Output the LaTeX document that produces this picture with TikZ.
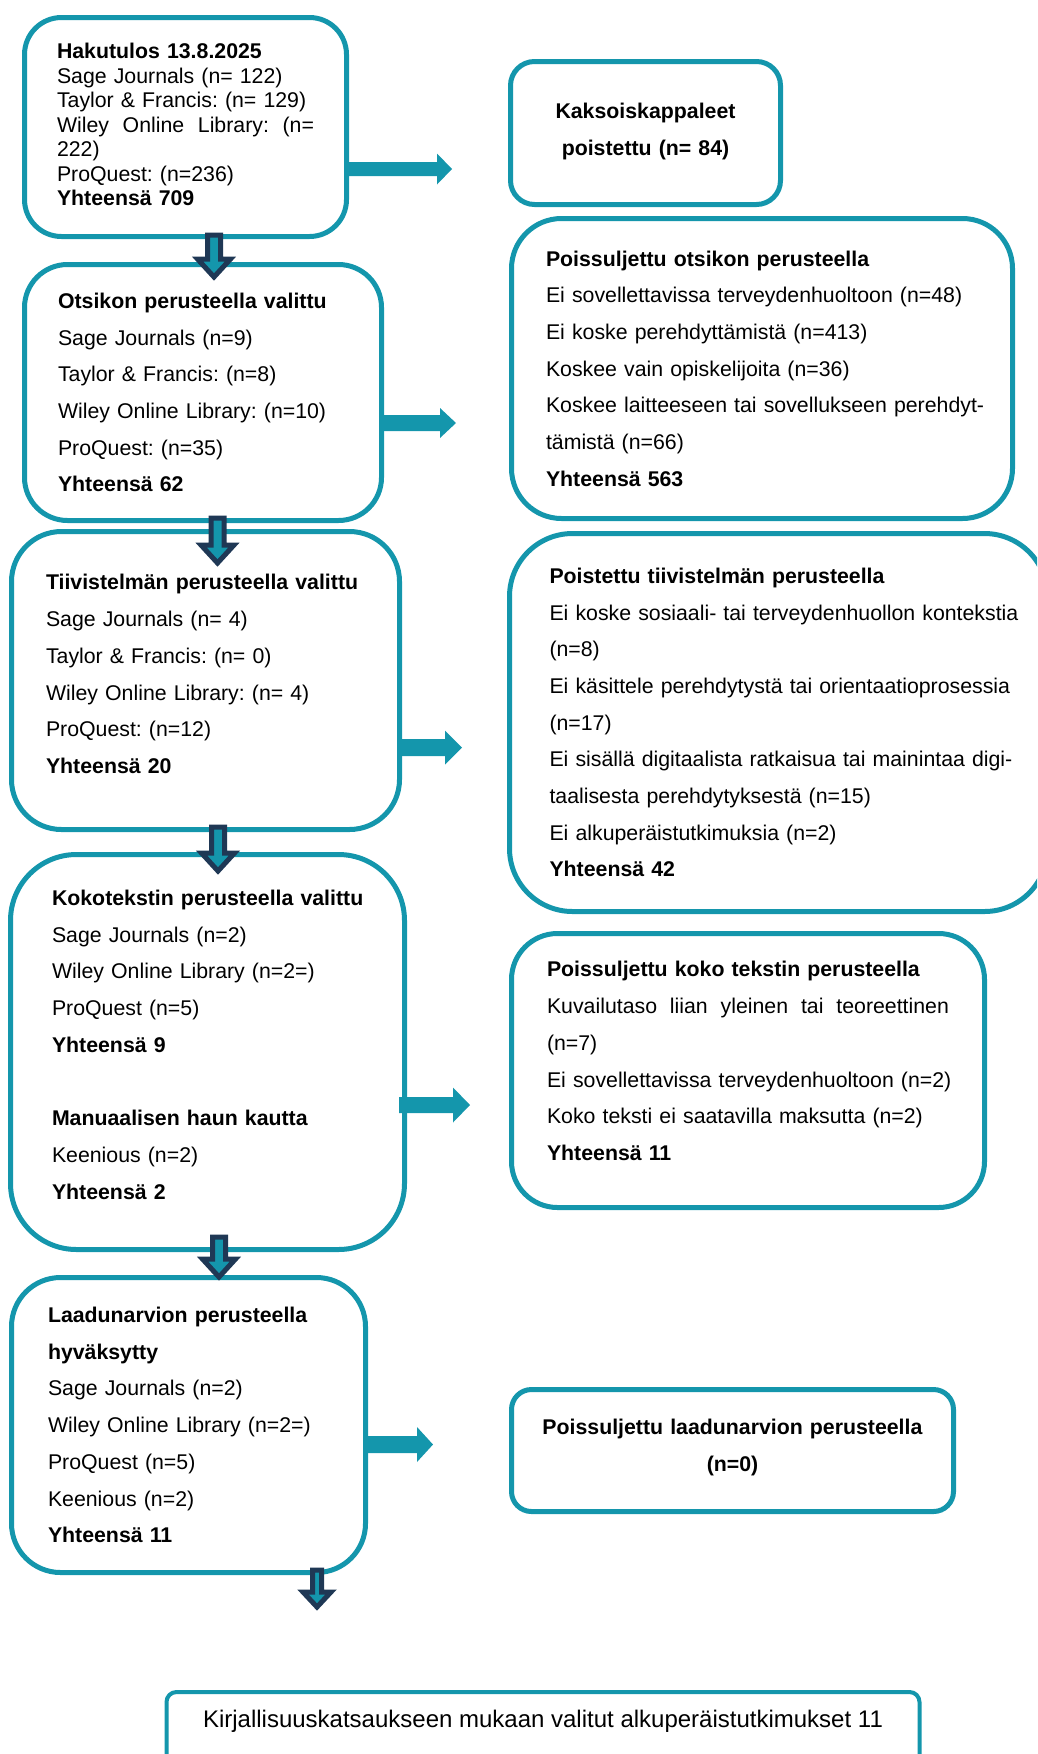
\documentclass[tikz,border=0pt]{standalone}
\usepackage{fontspec}
\setmainfont{Liberation Sans}
\usetikzlibrary{calc}
\definecolor{tealc}{RGB}{20,150,172}
\definecolor{navyc}{RGB}{31,56,85}
\newcommand\fsMain{\fontsize{21.3pt}{36.7pt}\selectfont\frenchspacing}
\newcommand\fsTight{\fontsize{21.3pt}{24.5pt}\selectfont\frenchspacing}
\newcommand\fsFinal{\fontsize{24pt}{30pt}\selectfont\frenchspacing}
\newcommand\jline[2]{\leavevmode\hbox to #1{#2}}
\newcommand\lift[1]{\rule[-#1]{0pt}{#1}}
\begin{document}
\begin{tikzpicture}[x=1pt,y=-1pt,
  flowbox/.style={draw=tealc, line width=5pt, rounded corners=#1, fill=white,
    inner sep=0pt, align=left, font=\fsMain, text=black},
  darrow/.style n args={3}{draw=navyc, fill=tealc, line width=5pt, line join=miter, miter limit=10,
    to path={let \p1=(\tikztostart), \p2=(\tikztotarget) in
      ({\x1-#1pt},\y1) -- ({\x1-#1pt},{\y2+#3pt}) -- ({\x1-#2pt},{\y2+#3pt}) -- (\x1,\y2)
      -- ({\x1+#2pt},{\y2+#3pt}) -- ({\x1+#1pt},{\y2+#3pt}) -- ({\x1+#1pt},\y1) -- cycle}},
  rarrow/.style n args={3}{fill=tealc, draw=none,
    to path={let \p1=(\tikztostart), \p2=(\tikztotarget) in
      (\x1,{\y1+#1pt}) -- ({\x2-#3pt},{\y1+#1pt}) -- ({\x2-#3pt},{\y1+#2pt}) -- (\x2,\y1)
      -- ({\x2-#3pt},{\y1-#2pt}) -- ({\x2-#3pt},{\y1-#1pt}) -- (\x1,{\y1-#1pt}) -- cycle}},
]
\useasboundingbox (0,0) rectangle (1037,1754);
\clip (0,0) rectangle (1037,1754);

% left column
\node[flowbox=37pt, font=\fsTight, minimum width=322pt, minimum height=219pt, text width=257pt] (b1) at (185.5,127)
 {\mbox{\textbf{Hakutulos 13.8.2025}}\\
  \mbox{Sage Journals (n= 122)}\\
  \mbox{Taylor \& Francis: (n= 129)}\\
  \jline{257pt}{Wiley\hfill Online\hfill Library:\hfill (n=}\\
  222)\\
  \mbox{ProQuest: (n=236)}\\
  \mbox{\textbf{Yhteensä 709}}\lift{5pt}};

\node[flowbox=43pt, minimum width=357pt, minimum height=256pt, text width=290pt] (b2) at (203,392.5)
 {\mbox{\textbf{Otsikon perusteella valittu}}\\
  \mbox{Sage Journals (n=9)}\\
  \mbox{Taylor \& Francis: (n=8)}\\
  \mbox{Wiley Online Library: (n=10)}\\
  \mbox{ProQuest: (n=35)}\\
  \mbox{\textbf{Yhteensä 62}}};

\node[flowbox=50pt, minimum width=388pt, minimum height=298pt, text width=319pt] (b3) at (205.5,680.5)
 {\mbox{\textbf{Tiivistelmän perusteella valittu}}\\
  \mbox{Sage Journals (n= 4)}\\
  \mbox{Taylor \& Francis: (n= 0)}\\
  \mbox{Wiley Online Library: (n= 4)}\\
  \mbox{ProQuest: (n=12)}\\
  \mbox{\textbf{Yhteensä 20}}\lift{13pt}};

\node[flowbox=66pt, minimum width=394pt, minimum height=395pt, text width=311pt] (b4) at (207.5,1052)
 {\mbox{\textbf{Kokotekstin perusteella valittu}}\\
  \mbox{Sage Journals (n=2)}\\
  \mbox{Wiley Online Library (n=2=)}\\
  \mbox{ProQuest (n=5)}\\
  \mbox{\textbf{Yhteensä 9}}\\
  \mbox{}\\
  \mbox{\textbf{Manuaalisen haun kautta}}\\
  \mbox{Keenious (n=2)}\\
  \mbox{\textbf{Yhteensä 2}}\lift{15pt}};

\node[flowbox=49pt, minimum width=354pt, minimum height=295pt, text width=281pt] (b5) at (188.5,1425)
 {\mbox{\textbf{Laadunarvion perusteella}}\\
  \mbox{\textbf{hyväksytty}}\\
  \mbox{Sage Journals (n=2)}\\
  \mbox{Wiley Online Library (n=2=)}\\
  \mbox{ProQuest (n=5)}\\
  \mbox{Keenious (n=2)}\\
  \mbox{\textbf{Yhteensä 11}}};

% right column
\node[flowbox=24pt, align=center, minimum width=270pt, minimum height=143pt, text width=240pt] (bk) at (645.5,133)
 {\textbf{Kaksoiskappaleet}\\
  \textbf{poistettu (n= 84)}\lift{8pt}};

\node[flowbox=50pt, minimum width=501pt, minimum height=300pt, text width=432pt] (p1) at (762,368.5)
 {\mbox{\textbf{Poissuljettu otsikon perusteella}}\\
  \mbox{Ei sovellettavissa terveydenhuoltoon (n=48)}\\
  \mbox{Ei koske perehdyttämistä (n=413)}\\
  \mbox{Koskee vain opiskelijoita (n=36)}\\
  \mbox{Koskee laitteeseen tai sovellukseen perehdyt-}\\
  \mbox{tämistä (n=66)}\\
  \mbox{\textbf{Yhteensä 563}}};

\node[flowbox=63pt, minimum width=538pt, minimum height=378pt, text width=458pt] (p2) at (778.5,722.5)
 {\mbox{\textbf{Poistettu tiivistelmän perusteella}}\\
  \jline{458pt}{Ei koske sosiaali- tai terveydenhuollon kontekstia}\\
  (n=8)\\
  \jline{458pt}{Ei käsittele perehdytystä tai orientaatioprosessia}\\
  (n=17)\\
  \jline{458pt}{Ei sisällä digitaalista ratkaisua tai mainintaa digi-}\\
  \mbox{taalisesta perehdytyksestä (n=15)}\\
  \mbox{Ei alkuperäistutkimuksia (n=2)}\\
  \mbox{\textbf{Yhteensä 42}}};

\node[flowbox=46pt, minimum width=473pt, minimum height=274pt, text width=402pt] (p3) at (748,1070.5)
 {\mbox{\textbf{Poissuljettu koko tekstin perusteella}}\\
  \jline{402pt}{Kuvailutaso\hfill liian\hfill yleinen\hfill tai\hfill teoreettinen}\\
  (n=7)\\
  \mbox{Ei sovellettavissa terveydenhuoltoon (n=2)}\\
  \mbox{Koko teksti ei saatavilla maksutta (n=2)}\\
  \mbox{\textbf{Yhteensä 11}}\lift{19pt}};

\node[flowbox=20pt, align=center, minimum width=442pt, minimum height=122pt, text width=420pt] (p4) at (732.5,1450.5)
 {\textbf{Poissuljettu laadunarvion perusteella}\\
  \textbf{(n=0)}\lift{11pt}};

\node[draw=tealc, line width=4pt, rounded corners=10pt, fill=white, font=\fsFinal,
      inner xsep=0pt, inner ysep=19pt, text height=16pt, text depth=60pt,
      minimum width=753pt, anchor=north] (fin) at (543,1690)
 {Kirjallisuuskatsaukseen mukaan valitut alkuperäistutkimukset 11};

% right arrows
\path[rarrow={7}{15.5}{15}] ($(b1.east)+(0,42)$) to ($(bk.west)+(-56,0)$);
\path[rarrow={8}{15}{16}]   ($(b2.east)+(0,30.5)$) to ($(p1.west)+(-53,0)$);
\path[rarrow={8.5}{17}{17}] ($(b3.east)+(0,67)$) to ($(p2.west)+(-45,0)$);
\path[rarrow={8}{17.5}{17}] ($(b4.east)+(-8,53)$) to ($(p3.west)+(-39,0)$);
\path[rarrow={8.5}{17.5}{16}] ($(b5.east)+(-5,19.5)$) to ($(p4.west)+(-76,0)$);

% down arrows
\path[darrow={6.5}{16.5}{18}] ($(b1.south)+(28.5,-4)$) to ($(b2.north)+(0,15)$);
\path[darrow={6.5}{16.5}{18}] ($(b2.south)+(14.5,-5)$) to ($(b3.north)+(0,34)$);
\path[darrow={6.5}{16.5}{18}] ($(b3.south)+(12.5,-5)$) to ($(b4.north)+(0,19)$);
\path[darrow={6.5}{16.5}{18}] ($(b4.south)+(11.5,-15)$) to ($(b5.north)+(0,2)$);
\path[darrow={4.5}{14}{15}] ($(b5.south)+(128.5,-5)$) to ($(fin.north)+(0,-83)$);
\end{tikzpicture}
\end{document}
